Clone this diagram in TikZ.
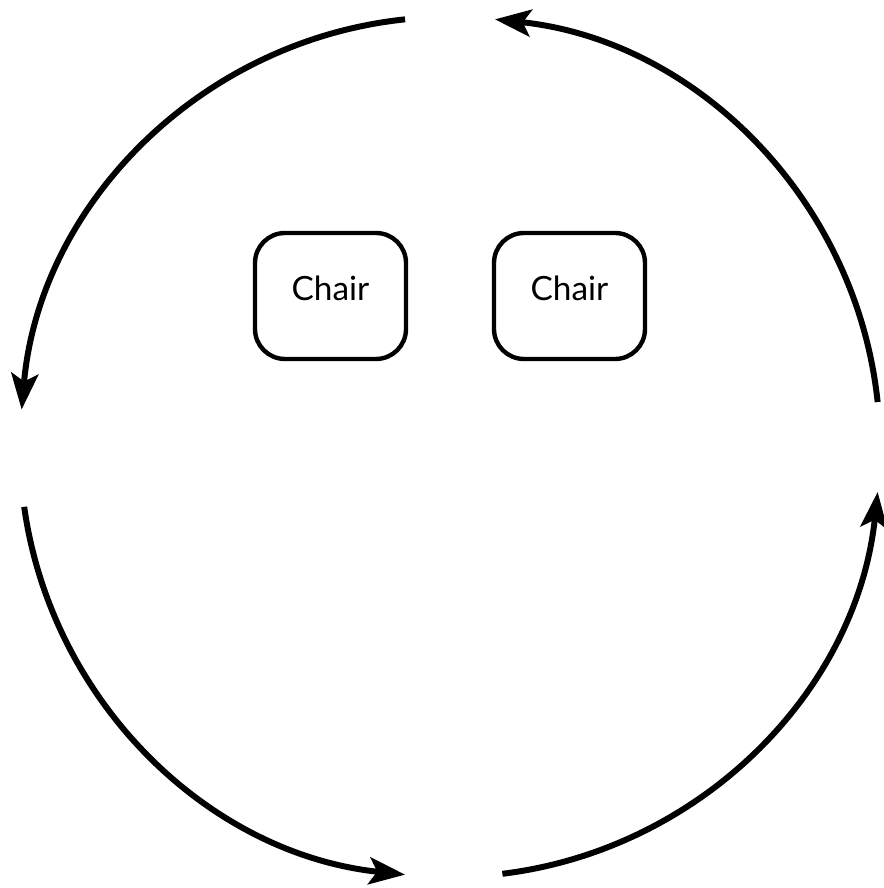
\documentclass[tikz,border=0pt]{standalone}
\usepackage{fontspec}
\setmainfont{Lato}
\usetikzlibrary{arrows.meta}
\begin{document}
\begin{tikzpicture}[
	chair/.style={draw,line width=2.5pt,rounded corners=0.6cm,minimum width=3.02cm,minimum height=2.52cm,
		text height=0.6cm,text depth=0.4cm,font=\fontsize{19}{22}\selectfont},
	flow/.style={line width=3.4pt,->,>={Stealth[length=0.72cm,width=0.54cm,inset=0.16cm]}}]
	\useasboundingbox (-9.0,-8.82) rectangle (8.66,8.94);
	% the seats
	\node[chair] (chairL) at (-2.39,3.02) {Chair};
	\node[chair] (chairR) at (2.39,3.02) {Chair};
	% walking round
	\foreach \s/\e in {6/84,96/175,188/264,277/354}
		\draw[flow] (\s:8.6) arc (\s:\e:8.6);
\end{tikzpicture}
\end{document}
